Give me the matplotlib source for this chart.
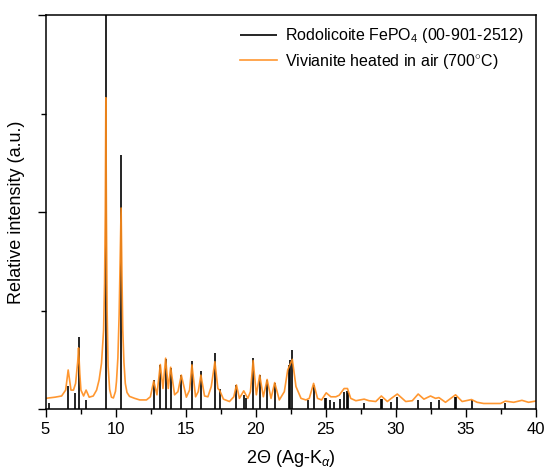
import matplotlib.pyplot as plt
from matplotlib.ticker import MultipleLocator, NullFormatter

plt.rcParams["font.family"] = ["Liberation Sans", "DejaVu Sans"]
plt.rcParams["mathtext.fontset"] = "custom"
plt.rcParams["mathtext.rm"] = "Liberation Sans"
plt.rcParams["mathtext.it"] = "Liberation Sans:italic"

# reference pattern: Rodolicoite FePO4 (00-901-2512), relative heights
stick_pos = [5.25, 6.62, 7.12, 7.36, 7.90, 9.31, 10.40, 12.73, 13.20, 13.58,
             13.94, 14.70, 15.46, 16.10, 17.10, 17.43, 18.64, 19.16, 19.35, 19.83,
             20.30, 20.83, 21.37, 22.37, 22.49, 22.62, 23.77, 24.15, 24.97, 25.05,
             25.31, 25.62, 26.05, 26.35, 26.50, 26.62, 27.76, 28.97, 29.05, 29.70,
             30.13, 31.62, 32.50, 33.10, 34.25, 34.33, 35.43, 37.85]
stick_int = [0.015, 0.058, 0.040, 0.183, 0.023, 1.000, 0.645, 0.074, 0.112, 0.126,
             0.103, 0.086, 0.123, 0.096, 0.141, 0.050, 0.061, 0.036, 0.028, 0.129,
             0.086, 0.074, 0.067, 0.112, 0.124, 0.150, 0.023, 0.061, 0.028, 0.028,
             0.023, 0.019, 0.025, 0.044, 0.046, 0.040, 0.016, 0.025, 0.025, 0.019,
             0.030, 0.023, 0.019, 0.023, 0.031, 0.031, 0.022, 0.016]

# measured pattern: vivianite heated in air (700 C)
meas_2theta = [5.00, 5.68, 6.15, 6.44, 6.62, 6.82, 7.00, 7.15, 7.30, 7.36,
               7.45, 7.53, 7.72, 7.90, 8.12, 8.41, 8.65, 8.83, 9.00, 9.15,
               9.22, 9.27, 9.31, 9.35, 9.40, 9.47, 9.58, 9.71, 9.85, 10.00,
               10.07, 10.17, 10.26, 10.34, 10.40, 10.46, 10.52, 10.60, 10.70, 10.82,
               11.00, 11.14, 11.37, 11.73, 12.21, 12.49, 12.73, 12.96, 13.20, 13.39,
               13.58, 13.77, 13.94, 14.22, 14.46, 14.70, 15.06, 15.29, 15.46, 15.72,
               15.91, 16.10, 16.36, 16.60, 16.84, 17.10, 17.31, 17.43, 17.71, 18.14,
               18.45, 18.64, 18.85, 19.16, 19.45, 19.64, 19.83, 20.06, 20.30, 20.56,
               20.83, 21.11, 21.37, 21.70, 22.06, 22.30, 22.63, 22.89, 23.25, 23.60,
               23.84, 24.15, 24.43, 24.72, 25.05, 25.38, 25.74, 25.98, 26.33, 26.57,
               26.80, 27.17, 27.76, 28.11, 28.59, 28.99, 29.42, 29.70, 30.13, 30.73,
               31.20, 31.62, 32.03, 32.50, 32.86, 33.10, 33.57, 34.29, 34.76, 35.43,
               35.83, 36.30, 37.50, 37.85, 38.44, 39.03, 39.50, 40.00]
meas_int = [0.027, 0.030, 0.033, 0.048, 0.099, 0.048, 0.048, 0.065, 0.120, 0.155,
            0.090, 0.048, 0.033, 0.048, 0.030, 0.033, 0.048, 0.074, 0.116, 0.200,
            0.320, 0.500, 0.790, 0.500, 0.250, 0.110, 0.050, 0.030, 0.028, 0.045,
            0.070, 0.130, 0.240, 0.400, 0.510, 0.340, 0.200, 0.120, 0.065, 0.042,
            0.032, 0.030, 0.027, 0.023, 0.023, 0.031, 0.071, 0.036, 0.113, 0.052,
            0.129, 0.052, 0.106, 0.036, 0.044, 0.086, 0.030, 0.048, 0.112, 0.031,
            0.044, 0.086, 0.033, 0.031, 0.057, 0.120, 0.052, 0.048, 0.025, 0.019,
            0.031, 0.061, 0.027, 0.046, 0.027, 0.044, 0.123, 0.036, 0.086, 0.031,
            0.075, 0.027, 0.067, 0.023, 0.044, 0.099, 0.126, 0.057, 0.027, 0.023,
            0.027, 0.065, 0.027, 0.023, 0.041, 0.031, 0.031, 0.035, 0.052, 0.052,
            0.027, 0.021, 0.025, 0.021, 0.019, 0.033, 0.019, 0.027, 0.038, 0.019,
            0.021, 0.038, 0.025, 0.033, 0.027, 0.029, 0.017, 0.036, 0.019, 0.024,
            0.017, 0.014, 0.014, 0.020, 0.017, 0.022, 0.017, 0.020]

fig = plt.figure(figsize=(5.45, 4.71), dpi=100)
ax = fig.add_axes([45.5 / 545, 1 - 409 / 471, (535.5 - 45.5) / 545, (409 - 15) / 471])

ax.vlines(stick_pos, 0, stick_int, color="black", linewidth=1.2,
          label="Rodolicoite FePO$_4$ (00-901-2512)")
ax.plot(meas_2theta, meas_int, color="#ff8c1a", linewidth=1.2, alpha=0.9,
        label="Vivianite heated in air (700$^{\\circ}$C)")

ax.set_xlim(5, 40)
ax.set_ylim(0, 1)
ax.xaxis.set_major_locator(MultipleLocator(5))
ax.xaxis.set_minor_locator(MultipleLocator(2.5))
ax.yaxis.set_major_locator(MultipleLocator(0.5))
ax.yaxis.set_minor_locator(MultipleLocator(0.25))
ax.yaxis.set_major_formatter(NullFormatter())
ax.tick_params(which="major", direction="out", length=6, width=1, labelsize=12)
ax.tick_params(which="minor", direction="out", length=3.5, width=1)
for s in ax.spines.values():
    s.set_linewidth(1.1)

ax.set_xlabel("2\u0398 (Ag-K$_\\alpha$)", fontsize=13, labelpad=8)
ax.set_ylabel("Relative intensity (a.u.)", fontsize=13, labelpad=5)

handles, labels = ax.get_legend_handles_labels()
ax.legend(handles, labels, loc="upper right", frameon=False, fontsize=11.5,
          handlelength=2.3, handletextpad=0.5, borderaxespad=0.3, labelspacing=0.4)

fig.savefig("out.png", dpi=100)
